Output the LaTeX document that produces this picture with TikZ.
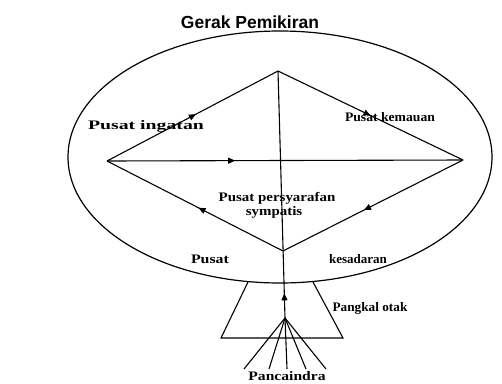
\documentclass[tikz,border=0pt]{standalone}
\usepackage{fontspec}
\setmainfont{Liberation Serif}
\newfontfamily\titlefont{Liberation Sans}
\usetikzlibrary{arrows.meta,decorations.markings,shapes.geometric}
\tikzset{
  ln/.style={line width=1.1pt},
  midarrow/.style={postaction={decorate},decoration={markings,
     mark=at position #1 with {\arrow{Triangle[length=7pt,width=6pt]}}}},
  lbl/.style={inner sep=0pt,font=\bfseries\fontsize{13}{14}\selectfont}
}
\begin{document}
\begin{tikzpicture}[x=1pt,y=-1pt]
\useasboundingbox (0,0) rectangle (502,383);
% title
\node[inner sep=0pt,font=\titlefont\bfseries\fontsize{17.5}{19}\selectfont] (title) at (250,22) {Gerak Pemikiran};
% ellipse
\node[draw,ellipse,minimum width=424pt,minimum height=252pt,inner sep=0pt,line width=1.2pt] (ell) at (280,157) {};
% diamond vertices
\coordinate (L) at (107,161);
\coordinate (T) at (278,71);
\coordinate (R) at (463,160);
\coordinate (B) at (283,251);
\coordinate (A) at (285,318);
% diamond edges
\draw[ln,midarrow=0.52] (L) -- (T);
\draw[ln,midarrow=0.50] (T) -- (R);
\draw[ln,midarrow=0.36] (L) -- (R);
\draw[ln,midarrow=0.55] (R) -- (B);
\draw[ln,midarrow=0.48] (B) -- (L);
\draw[ln,midarrow=0.10] (A) -- (T);
% trapezoid (Pangkal otak)
\coordinate (tl) at (248,282);
\coordinate (tr) at (313,282);
\coordinate (bl) at (221,338);
\coordinate (br) at (343,338);
\draw[ln] (tl) -- (bl) -- (br) -- (tr);
% fan (Pancaindra)
\coordinate (f1) at (244,369);
\coordinate (f2) at (269,369);
\coordinate (f3) at (287,369);
\coordinate (f4) at (306,369);
\coordinate (f5) at (326,369);
\foreach \f in {f1,f2,f3,f4,f5} \draw[ln] (A) -- (\f);
% labels
\node[lbl] (ingatan) at (146,126) {\scalebox{1.52}[1]{Pusat ingatan}};
\node[lbl] (kemauan) at (390,117) {\scalebox{1.05}[1]{Pusat kemauan}};
\node[lbl] (persy) at (277,198) {\scalebox{1.15}[1]{Pusat persyarafan}};
\node[lbl] (symp) at (274,212) {\scalebox{1.15}[1]{sympatis}};
\node[lbl] (pusat) at (210,259) {\scalebox{1.22}[1]{Pusat}};
\node[lbl] (kesadaran) at (358,259) {\scalebox{1.0}[1]{kesadaran}};
\node[lbl] (pangkal) at (370,308) {\scalebox{1.02}[1]{Pangkal otak}};
\node[lbl,anchor=base] (panca) at (287,380) {\scalebox{1.2}[1]{Pancaindra}};
\end{tikzpicture}
\end{document}
